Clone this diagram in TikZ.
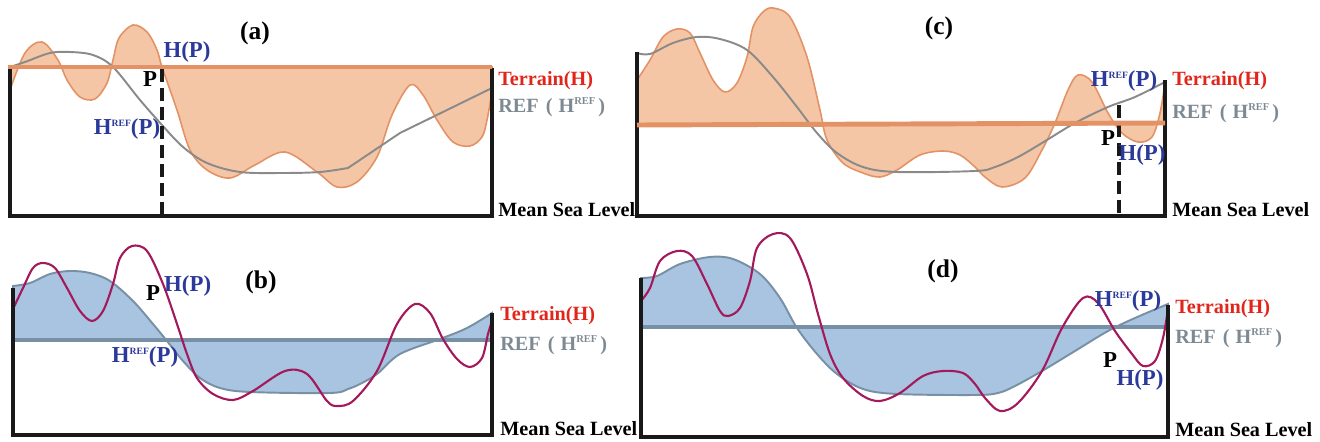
\documentclass[tikz,border=0pt]{standalone}
\usepackage{fontspec}
\setmainfont{Liberation Serif}
\usepackage{tikz}
\usetikzlibrary{positioning}
\definecolor{peach}{HTML}{F5C6A5}
\definecolor{terorange}{HTML}{E39266}
\definecolor{refgray}{HTML}{8A8A8A}
\definecolor{skyfill}{HTML}{A8C4E0}
\definecolor{slateblue}{HTML}{7890A5}
\definecolor{berry}{HTML}{A3195B}
\definecolor{lblblue}{HTML}{2B3A9A}
\definecolor{lblred}{HTML}{E1251B}
\definecolor{lblgray}{HTML}{7E8A93}
\newcommand{\Href}{H\raisebox{4.6pt}{\fontsize{5.5}{5.5}\selectfont REF}(P)}

\begin{document}
\begin{tikzpicture}[x=0.02cm,y=-0.02cm,
   lbl/.style={font=\bfseries\fontsize{11.5}{12}\selectfont,inner sep=0pt},
   mark lbl/.style={font=\bfseries\fontsize{13}{14}\selectfont,inner sep=0pt},
   ttl/.style={font=\bfseries\fontsize{14.5}{15}\selectfont,inner sep=0pt},
   msl/.style={line width=2.3pt,black!90},
   terr/.style={line width=0.9pt,terorange},
   refc/.style={line width=1.1pt,refgray},
   refb/.style={line width=1.1pt,slateblue},
   terb/.style={line width=1.2pt,berry},
   level/.style={line width=2.8pt},
   plumb/.style={line width=2.3pt,black!90,dash pattern=on 7.4pt off 3.4pt}]
  \useasboundingbox (0,0) rectangle (1320,442);
  % (a) terrain above / below REF
  \draw[terr,fill=peach] plot[smooth,tension=0.55] coordinates {(10,90) (25,53) (42,42) (58,60) (67,80)
    (80,97) (95,99) (107,83) (113,60) (119,38) (133,25) (147,32) (157,50) (162,67) (177,110) (190,150)
    (207,170) (230,178) (255,165) (285,152) (317,172) (337,187) (357,182) (377,157) (392,115) (410,85)
    (423,95) (437,120) (453,142) (470,146) (482,137) (487,120) (492,92)} -- (492,67) -- (10,67) -- cycle;
  \draw[refc] plot[smooth,tension=0.55] coordinates {(10,67) (25,62) (50,53) (70,52) (93,55) (113,67)
    (140,100) (162,125) (183,147) (207,163) (240,172) (283,173) (320,172) (348,168)} -- (400,133) -- (492,88);
  \draw[msl] (10,67) -- (10,216) -- (492,216) -- (492,68);
  \draw[plumb] (162,69) -- (162,216);
  \draw[level,terorange] (8,67) -- (492,67);
  \node[ttl] (ttlA) at (255,33) {(a)};
  \node[mark lbl,lblblue] (hpA) at (187,52) {H(P)};
  \node[mark lbl] (pA) at (150,79) {P};
  \node[mark lbl,lblblue] (hrefA) at (127,129) {\Href};

  % (b) REF above / below the level
  \draw[refb,fill=skyfill] plot[smooth,tension=0.55] coordinates {(13,286) (30,283) (50,274) (70,271)
    (90,273) (110,281) (133,301) (153,324) (167,341) (183,361) (200,378) (220,388) (250,392) (330,393)
    (348,389) (360,384) (377,374) (400,354) (440,339) (467,328) (492,313)} -- (492,340) -- (13,340) -- cycle;
  \draw[level,slateblue] (13,340) -- (492,340);
  \draw[terb] plot[smooth,tension=0.55] coordinates {(13,309) (23,288) (33,268) (43,263) (55,268) (67,288)
    (80,311) (92,321) (103,311) (113,284) (120,258) (132,246) (147,251) (163,284) (177,324) (187,354)
    (197,378) (213,394) (233,400) (253,391) (285,371) (307,374) (327,401) (337,406) (353,401) (377,371)
    (397,324) (415,304) (430,313) (443,339) (457,359) (470,367) (482,358) (488,334) (492,321)};
  \draw[msl] (13,288) -- (13,435) -- (492,435) -- (492,313);
  \node[ttl] (ttlB) at (261,282) {(b)};
  \node[mark lbl] (pB) at (153,293) {P};
  \node[mark lbl,lblblue,right=2pt of pB,yshift=4pt] (hpB) {H(P)};
  \node[mark lbl,lblblue] (hrefB) at (145,357) {\Href};

  % (c) terrain above / below REF
  \draw[terr,fill=peach] plot[smooth,tension=0.55] coordinates {(637,80) (650,60) (663,37) (677,29)
    (690,33) (700,53) (713,80) (725,92) (737,83) (747,57) (753,27) (763,12) (773,8) (790,17) (807,57)
    (820,110) (827,140) (843,163) (863,173) (880,177) (897,170) (920,155) (943,151) (960,155) (975,167)
    (985,177) (1002,187) (1025,178) (1042,150) (1055,123) (1068,90) (1078,75) (1092,82) (1108,113)
    (1122,133) (1138,142) (1152,137) (1160,113) (1165,83)} -- (1165,123) -- (637,125) -- cycle;
  \draw[refc] plot[smooth,tension=0.55] coordinates {(637,53) (650,54) (673,43) (697,37) (720,39) (747,50)
    (773,77) (797,107) (817,133) (837,153) (863,167) (897,172) (975,171) (995,167) (1018,157) (1042,143)
    (1075,123) (1108,107) (1135,97) (1165,82)};
  \draw[msl] (637,52) -- (637,216) -- (1165,216) -- (1165,80);
  \draw[plumb] (1119,105) -- (1119,216);
  \draw[level,terorange] (637,125) -- (1165,123);
  \node[ttl] (ttlC) at (939,28) {(c)};
  \node[mark lbl,lblblue] (hrefC) at (1124,81) {\Href};
  \node[mark lbl] (pC) at (1108,138) {P};
  \node[mark lbl,lblblue] (hpC) at (1142,155) {H(P)};

  % (d) REF above / below the level
  \draw[refb,fill=skyfill] plot[smooth,tension=0.55] coordinates {(641,278) (657,276) (680,264) (710,257)
    (733,259) (760,274) (780,298) (797,328) (817,354) (837,374) (863,389) (897,394) (975,395) (998,393)
    (1015,386) (1042,371) (1075,351) (1108,331) (1135,318) (1168,304)} -- (1168,327) -- (641,327) -- cycle;
  \draw[level,slateblue] (641,327) -- (1168,327);
  \draw[terb] plot[smooth,tension=0.55] coordinates {(641,301) (650,288) (660,261) (677,251) (692,256)
    (707,284) (720,311) (728,316) (740,308) (750,281) (757,248) (773,234) (790,238) (807,274) (818,314)
    (830,354) (843,378) (863,396) (880,401) (900,393) (923,376) (943,371) (963,373) (975,384) (985,398)
    (1000,411) (1018,403) (1042,371) (1062,328) (1083,298) (1098,303) (1115,331) (1132,354) (1143,366)
    (1155,361) (1163,338) (1168,309)};
  \draw[msl] (641,278) -- (641,437) -- (1168,437) -- (1168,305);
  \node[ttl] (ttlD) at (943,271) {(d)};
  \node[mark lbl,lblblue] (hrefD) at (1128,301) {\Href};
  \node[mark lbl] (pD) at (1110,360) {P};
  \node[mark lbl,lblblue] (hpD) at (1140,380) {H(P)};

  % legends
  \foreach \n/\lx/\ty/\ry/\my in {A/498/81/107/210, B/500/316/345/429, C/1172/81/113/210, D/1175/309/338/430} {
    \node[lbl,lblred,anchor=west] (ter\n) at (\lx,\ty) {Terrain(H)};
    \node[lbl,lblgray,anchor=west] (ref\n) at (\lx,\ry) {REF\hspace{0.35em}(\hspace{0.3em}H\textsuperscript{\fontsize{6}{6}\selectfont REF}\hspace{0.1em})};
    \node[lbl,anchor=west] (msl\n) at (\lx,\my) {Mean Sea Level};
  }
\end{tikzpicture}
\end{document}
